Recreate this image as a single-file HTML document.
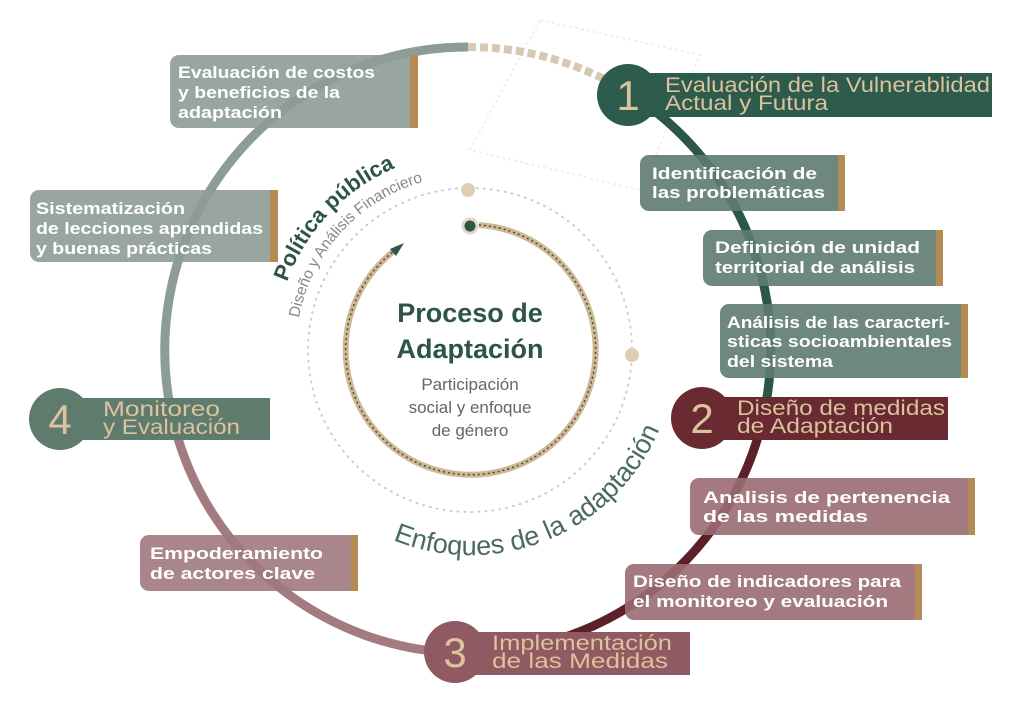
<!DOCTYPE html>
<html><head><meta charset="utf-8"><style>
html,body{margin:0;padding:0;background:#fff;width:1024px;height:703px;overflow:hidden}
svg{display:block}
text{font-family:"Liberation Sans",sans-serif}
.bt{fill:#fff;font-size:17px;font-weight:bold}
.st{fill:#dcc29d;font-size:21px}
.dg{fill:#dcc29d;font-size:42px;text-anchor:middle}
</style></head><body>
<svg width="1024" height="703" viewBox="0 0 1024 703" xmlns="http://www.w3.org/2000/svg">
<defs>
<path id="pp" d="M 287 282 A 198 198 0 0 1 470 152"/>
<path id="da" d="M 299 318 A 175 175 0 0 1 475 175"/>
<path id="enf" d="M 393 540 A 205 205 0 0 0 663 280"/>
</defs>
<polygon points="540,20 700,55 640,190 470,150" fill="none" stroke="#f3efe8" stroke-width="2" stroke-dasharray="3 3"/>
<circle cx="470" cy="350" r="162" fill="none" stroke="#ccc" stroke-width="2" stroke-dasharray="1 6" stroke-linecap="round"/>
<circle cx="468" cy="190" r="7" fill="#dfcdb4"/>
<circle cx="632" cy="355" r="7" fill="#dfcdb4"/>
<path d="M 468 47 A 303 303 0 0 1 629 93" fill="none" stroke="#d6c8b4" stroke-width="8" stroke-dasharray="8 4"/>
<path d="M 629 93 A 303 303 0 0 1 766 403" fill="none" stroke="#2b5747" stroke-width="9"/>
<path d="M 766 403 A 303 303 0 0 1 457 653" fill="none" stroke="#5c2028" stroke-width="9"/>
<path d="M 457 653 A 303 303 0 0 1 175 428" fill="none" stroke="#a27c81" stroke-width="9"/>
<path d="M 175 428 A 303 303 0 0 1 468 47" fill="none" stroke="#8d9c95" stroke-width="9"/>
<path d="M 479 225 A 125 125 0 1 1 398 248" fill="none" stroke="#cdb894" stroke-width="6"/>
<path d="M 479 225 A 125 125 0 1 1 398 248" fill="none" stroke="#4a4a3a" stroke-width="1.5" stroke-dasharray="2 3"/>
<polygon points="404,243 390,249 396,256" fill="#2b5747"/>
<circle cx="470" cy="226" r="7" fill="#2b5747" stroke="#e4d6c0" stroke-width="3"/>
<text font-size="22" font-weight="bold" fill="#2d5447"><textPath href="#pp">Política pública</textPath></text>
<text font-size="15.5" fill="#888"><textPath href="#da">Diseño y Análisis Financiero</textPath></text>
<text font-size="27" fill="#4b6b5f"><textPath href="#enf">Enfoques de la adaptación</textPath></text>
<text x="470" y="322" text-anchor="middle" font-size="27" font-weight="bold" fill="#2d5447">Proceso de</text>
<text x="470" y="358" text-anchor="middle" font-size="27" font-weight="bold" fill="#2d5447">Adaptación</text>
<text x="470" y="390" text-anchor="middle" font-size="17" fill="#666">Participación</text>
<text x="470" y="413" text-anchor="middle" font-size="17" fill="#666">social y enfoque</text>
<text x="470" y="436" text-anchor="middle" font-size="17" fill="#666">de género</text>
<g opacity="0.9">
<rect x="170" y="55" width="248" height="73" rx="9" fill="#8e9c95"/>
<rect x="30" y="190" width="248" height="72" rx="9" fill="#8e9c95"/>
<rect x="640" y="155" width="205" height="56" rx="9" fill="#5f7c70"/>
<rect x="703" y="230" width="240" height="56" rx="9" fill="#5f7c70"/>
<rect x="720" y="304" width="248" height="74" rx="9" fill="#5f7c70"/>
<rect x="690" y="478" width="285" height="57" rx="9" fill="#9a6c72"/>
<rect x="625" y="564" width="297" height="56" rx="9" fill="#9a6c72"/>
<rect x="140" y="535" width="218" height="56" rx="9" fill="#a07980"/>
</g>
<g fill="#b48a55">
<rect x="410" y="55" width="8" height="73"/>
<rect x="270" y="190" width="8" height="72"/>
<rect x="838" y="155" width="7" height="56"/>
<rect x="936" y="230" width="7" height="56"/>
<rect x="961" y="304" width="7" height="74"/>
<rect x="968" y="478" width="7" height="57"/>
<rect x="915" y="564" width="7" height="56"/>
<rect x="351" y="535" width="7" height="56"/>
</g>
<g lengthAdjust="spacingAndGlyphs">
<text class="bt" x="178" y="78" textLength="197" lengthAdjust="spacingAndGlyphs">Evaluación de costos</text>
<text class="bt" x="178" y="98" textLength="162" lengthAdjust="spacingAndGlyphs">y beneficios de la</text>
<text class="bt" x="178" y="118" textLength="104" lengthAdjust="spacingAndGlyphs">adaptación</text>
<text class="bt" x="36" y="214" textLength="149" lengthAdjust="spacingAndGlyphs">Sistematización</text>
<text class="bt" x="36" y="234" textLength="227" lengthAdjust="spacingAndGlyphs">de lecciones aprendidas</text>
<text class="bt" x="36" y="254" textLength="176" lengthAdjust="spacingAndGlyphs">y buenas prácticas</text>
<text class="bt" x="652" y="179" textLength="165" lengthAdjust="spacingAndGlyphs">Identificación de</text>
<text class="bt" x="652" y="198" textLength="173" lengthAdjust="spacingAndGlyphs">las problemáticas</text>
<text class="bt" x="715" y="253" textLength="205" lengthAdjust="spacingAndGlyphs">Definición de unidad</text>
<text class="bt" x="715" y="273" textLength="200" lengthAdjust="spacingAndGlyphs">territorial de análisis</text>
<text class="bt" x="727" y="328" textLength="223" lengthAdjust="spacingAndGlyphs">Análisis de las caracterí-</text>
<text class="bt" x="727" y="347" textLength="225" lengthAdjust="spacingAndGlyphs">sticas socioambientales</text>
<text class="bt" x="727" y="367" textLength="106" lengthAdjust="spacingAndGlyphs">del sistema</text>
<text class="bt" x="703" y="503" textLength="247" lengthAdjust="spacingAndGlyphs">Analisis de pertenencia</text>
<text class="bt" x="703" y="522" textLength="165" lengthAdjust="spacingAndGlyphs">de las medidas</text>
<text class="bt" x="633" y="587" textLength="268" lengthAdjust="spacingAndGlyphs">Diseño de indicadores para</text>
<text class="bt" x="633" y="607" textLength="255" lengthAdjust="spacingAndGlyphs">el monitoreo y evaluación</text>
<text class="bt" x="150" y="559" textLength="173" lengthAdjust="spacingAndGlyphs">Empoderamiento</text>
<text class="bt" x="150" y="579" textLength="165" lengthAdjust="spacingAndGlyphs">de actores clave</text>
</g>
<rect x="645" y="73" width="347" height="44" fill="#2d5b4c"/>
<circle cx="628" cy="95" r="31" fill="#2d5b4c"/>
<text class="dg" x="628" y="110">1</text>
<text class="st" x="665" y="92" textLength="325" lengthAdjust="spacingAndGlyphs">Evaluación de la Vulnerablidad</text>
<text class="st" x="665" y="110" textLength="163" lengthAdjust="spacingAndGlyphs">Actual y Futura</text>
<rect x="715" y="397" width="233" height="43" fill="#6a2a31"/>
<circle cx="702" cy="418" r="31" fill="#6a2a31"/>
<text class="dg" x="702" y="433">2</text>
<text class="st" x="737" y="415" textLength="208" lengthAdjust="spacingAndGlyphs">Diseño de medidas</text>
<text class="st" x="737" y="433" textLength="156" lengthAdjust="spacingAndGlyphs">de Adaptación</text>
<rect x="470" y="632" width="220" height="43" fill="#8f5a61"/>
<circle cx="455" cy="652" r="31" fill="#8f5a61"/>
<text class="dg" x="455" y="667">3</text>
<text class="st" x="492" y="650" textLength="180" lengthAdjust="spacingAndGlyphs">Implementación</text>
<text class="st" x="492" y="668" textLength="176" lengthAdjust="spacingAndGlyphs">de las Medidas</text>
<rect x="75" y="398" width="195" height="42" fill="#5e7b6e"/>
<circle cx="60" cy="419" r="31" fill="#5e7b6e"/>
<text class="dg" x="60" y="434">4</text>
<text class="st" x="103" y="416" textLength="117" lengthAdjust="spacingAndGlyphs">Monitoreo</text>
<text class="st" x="103" y="434" textLength="137" lengthAdjust="spacingAndGlyphs">y Evaluación</text>
</svg>
</body></html>
